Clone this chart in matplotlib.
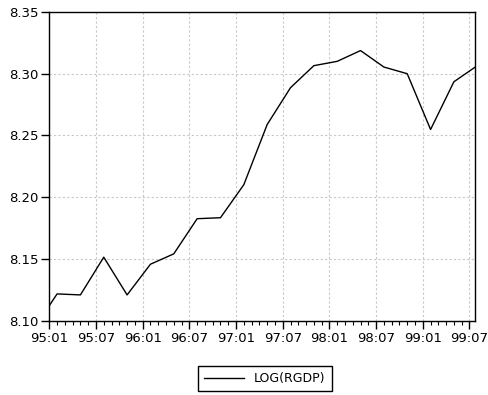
import numpy as np
import matplotlib.pyplot as plt
from matplotlib.ticker import MultipleLocator

# months counted from 95:01 (0 = 95:01), quarterly observations
months = [0, 1, 4, 7, 10, 13, 16, 19, 22, 25, 28, 31, 34, 37, 40, 43, 46, 49, 52, 55]
log_rgdp = [8.1124, 8.1219, 8.1211, 8.1516, 8.1211, 8.1459, 8.1543, 8.1827,
            8.1835, 8.2102, 8.2588, 8.2886, 8.3064, 8.3099, 8.3186, 8.3053,
            8.2999, 8.2548, 8.2934, 8.3064]

tick_months = [0, 6, 12, 18, 24, 30, 36, 42, 48, 54]
tick_labels = ["95:01", "95:07", "96:01", "96:07", "97:01",
               "97:07", "98:01", "98:07", "99:01", "99:07"]
y_ticks = [8.10, 8.15, 8.20, 8.25, 8.30, 8.35]

fig = plt.figure(figsize=(4.89, 3.95), dpi=100)
ax = fig.add_axes([0.1008, 0.1873, 0.8712, 0.783])

line, = ax.plot(months, log_rgdp, color="black", lw=1.0, label="LOG(RGDP)")

ax.set_xlim(0, 54.75)
ax.set_ylim(8.10, 8.35)
ax.set_xticks(tick_months)
ax.set_xticklabels(tick_labels)
ax.xaxis.set_minor_locator(MultipleLocator(1))
ax.set_yticks(y_ticks)
ax.set_yticklabels([f"{v:.2f}" for v in y_ticks])

ax.grid(True, color="#c8c8c8", linestyle=(0, (2, 2)), lw=0.8)
ax.tick_params(axis="both", which="major", direction="out", length=6,
               width=1, labelsize=9.5, pad=2, colors="black")
ax.tick_params(axis="x", which="minor", direction="out", length=3.2, width=0.8)
ax.tick_params(axis="y", which="minor", length=0)
for s in ax.spines.values():
    s.set_linewidth(1.0)
    s.set_color("black")

fig.legend(handles=[line], loc="center", bbox_to_anchor=(0.541, 0.042),
           frameon=True, fancybox=False, edgecolor="black", fontsize=9,
           handlelength=3.2, borderpad=0.5, framealpha=1)

plt.savefig("out.png", dpi=100)
